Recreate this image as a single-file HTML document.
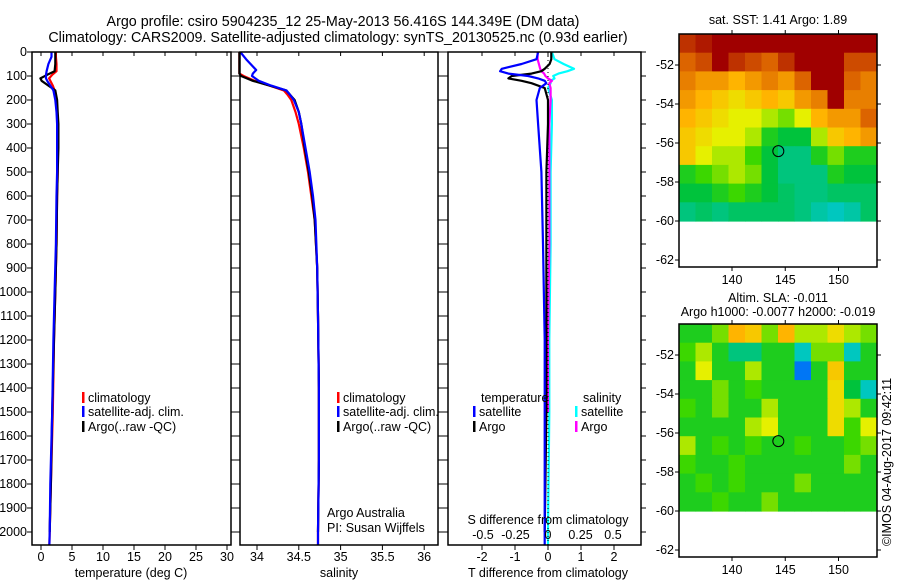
<!DOCTYPE html>
<html><head><meta charset="utf-8"><style>
body{margin:0;background:#fff;}
svg{display:block;font-family:"Liberation Sans",sans-serif;}
</style></head><body>
<svg id="fig" width="900" height="580" viewBox="0 0 900 580" xmlns="http://www.w3.org/2000/svg">
<defs><clipPath id="pc"><rect x="0" y="52" width="660" height="493"/></clipPath></defs>
<text x="343" y="26" text-anchor="middle" font-size="14.3">Argo profile: csiro 5904235_12 25-May-2013 56.416S 144.349E (DM data)</text>
<text x="338" y="42" text-anchor="middle" font-size="14.3">Climatology: CARS2009. Satellite-adjusted climatology: synTS_20130525.nc (0.93d earlier)</text>
<g id="g"></g>
</svg>
<script>
// ---- profile data ----
const tDepth=[0,20,50,80,95,110,120,140,160,200,250,300,400,500,600,800,1000,1200,1500,1800,2000,2100];
const tClim=[2.4,2.4,2.5,2.5,1.8,1.3,1.5,1.9,2.2,2.5,2.6,2.7,2.7,2.7,2.6,2.5,2.3,2.1,1.9,1.6,1.4,1.3];
const tSat=[1.7,1.7,1.2,0.9,0.8,0.8,1.0,1.5,2.0,2.3,2.5,2.6,2.6,2.6,2.5,2.4,2.2,2.0,1.8,1.5,1.4,1.3];
const tArgo=[2.3,2.3,2.3,2.2,1.0,-0.1,0.1,1.2,2.3,2.6,2.7,2.8,2.8,2.7,2.6,2.5,2.3,2.1,1.8,1.6,1.4,null];
const sDepth=[0,30,75,90,100,120,140,160,180,200,250,300,400,500,600,700,900,1100,1400,1700,2000,2100];
const sClim=[33.79,33.79,33.79,33.79,33.84,33.97,34.15,34.32,34.37,34.41,34.46,34.5,34.56,34.61,34.65,34.69,34.72,34.73,34.74,34.74,34.73,34.73];
const sSat=[33.8,33.87,33.99,33.95,33.94,34.02,34.17,34.35,34.4,34.44,34.5,34.53,34.58,34.63,34.67,34.7,34.72,34.73,34.74,34.74,34.73,34.73];
const sArgo=[33.79,33.79,33.79,33.79,33.81,33.95,34.15,34.35,34.4,34.45,34.5,34.53,34.57,34.62,34.66,34.69,34.72,34.73,34.74,34.74,34.73,null];
const dDepth=[0,30,50,70,80,90,100,110,120,130,150,200,300,500,800,1200,1500,2000,2100];
const tdSat=[-0.3,-0.35,-0.8,-1.4,-1.45,-1.2,-0.6,-0.3,-0.1,-0.05,-0.25,-0.35,-0.3,-0.2,-0.15,-0.1,-0.1,-0.1,-0.1];
const tdArgo=[0.1,0.1,0.05,-0.1,-0.2,-0.5,-1.1,-1.2,-0.8,-0.5,-0.1,0,0,-0.05,-0.05,-0.05,-0.05,-0.1,null];
const sdSat=[0.03,0.05,0.12,0.2,0.15,0.08,0.04,0.05,0.02,0.02,0.0,0.03,0.03,0.02,0.02,0.01,0.01,0.0,0.0];
const sdArgo=[-0.08,-0.08,-0.07,-0.06,-0.05,-0.03,-0.02,0.0,0.03,0.01,0.02,0.02,0.01,0.01,0.01,0.0,0.0,null,null];
const depthTicks=[0,100,200,300,400,500,600,700,800,900,1000,1100,1200,1300,1400,1500,1600,1700,1800,1900,2000];
const tTicks=[0,5,10,15,20,25,30];
const sTicks=[34,34.5,35,35.5,36];
const tdTicks=[-2,-1,0,1,2];
const sdTicks=[-0.5,-0.25,0,0.25,0.5];
// ---- map data (normalised colour index 0..1) ----
const sstGrid=[
[0.9,0.95,1,1,1,1,1,1,1,1,1,1],
[0.8,0.85,1,0.9,0.85,0.8,0.9,1,1,1,0.85,0.85],
[0.75,0.7,0.7,0.65,0.7,0.75,0.7,0.8,1,1,0.8,0.75],
[0.7,0.65,0.6,0.55,0.6,0.65,0.6,0.7,0.75,1,0.75,0.75],
[0.65,0.6,0.55,0.5,0.5,0.45,0.4,0.5,0.65,0.7,0.7,0.8],
[0.6,0.55,0.5,0.5,0.45,0.3,0.25,0.25,0.45,0.6,0.65,0.7],
[0.6,0.5,0.45,0.45,0.35,0.25,0.2,0.2,0.3,0.4,0.3,0.3],
[0.3,0.35,0.4,0.45,0.4,0.25,0.2,0.2,0.2,0.3,0.25,0.25],
[0.25,0.25,0.3,0.35,0.3,0.25,0.22,0.2,0.2,0.22,0.22,0.22],
[0.2,0.22,0.2,0.22,0.22,0.22,0.22,0.2,0.17,0.15,0.17,0.22]];
const slaGrid=[
[.3,.3,.4,.65,.6,.4,.65,.45,.45,.55,.45,.4],
[.35,.45,.3,.2,.2,.3,.3,.15,.4,.4,.15,.3],
[.3,.5,.3,.3,.45,.3,.3,.05,.3,.6,.3,.3],
[.3,.3,.4,.3,.35,.3,.3,.3,.3,.55,.25,.15],
[.35,.3,.4,.3,.3,.45,.3,.3,.3,.55,.45,.3],
[.3,.3,.3,.3,.45,.5,.3,.3,.3,.55,.35,.5],
[.45,.3,.35,.3,.35,.3,.3,.35,.3,.3,.35,.4],
[.35,.3,.3,.35,.3,.3,.3,.3,.3,.3,.4,.3],
[.3,.35,.3,.35,.3,.3,.3,.4,.3,.3,.3,.3],
[.3,.3,.35,.3,.3,.4,.3,.3,.3,.3,.3,.3]];
const latTicks=[-52,-54,-56,-58,-60,-62];
const lonTicks=[140,145,150];
const argoLon=144.349, argoLat=-56.416;

const NS="http://www.w3.org/2000/svg";
const G=document.getElementById('g');
function el(tag,at,parent){const e=document.createElementNS(NS,tag);for(const k in at)e.setAttribute(k,at[k]);(parent||G).appendChild(e);return e;}
function txt(x,y,s,anchor,size){const t=el('text',{x:x,y:y,'text-anchor':anchor||'start','font-size':size||12.5});t.textContent=s;return t;}

const pTop=52,pBot=545;
const yD=d=>pTop+d*0.24;
const LG=el('g',{'clip-path':'url(#pc)'});
function panel(x0,x1,name){
  const r=el('rect',{x:x0,y:pTop,width:x1-x0,height:pBot-pTop,fill:'none',stroke:'#000','stroke-width':1.5});
  
  
}
function xticks(xs,f,labY,topTicks){
  xs.forEach(v=>{const x=f(v);
    el('line',{x1:x,x2:x,y1:pBot,y2:pBot+5,stroke:'#000'});
    if(topTicks)el('line',{x1:x,x2:x,y1:pTop,y2:pTop+4,stroke:'#000'});
    const t=txt(x,labY,String(v),'middle',12.5);
    
    
  });
}
function line(xs,ds,fx,color,name,w){
  let p='';
  for(let i=0;i<xs.length;i++){if(xs[i]==null)continue;p+=(p?'L':'M')+fx(xs[i]).toFixed(1)+','+yD(ds[i]).toFixed(1);}
  const e=el('path',{d:p,fill:'none',stroke:color,'stroke-width':w||2.2,'stroke-linejoin':'round'},LG);
  
  
}
function legItem(x,y,color,label,name){
  el('rect',{x:x,y:y-10,width:2.5,height:11,fill:color});
  const t=txt(x+6,y,label,'start',12.5);
  
  
}

// Panel 1: temperature
const fT=v=>41+v*6.2;
panel(32,231,'temperature-panel');
depthTicks.forEach(d=>{const y=yD(d);
  el('line',{x1:32,x2:27,y1:y,y2:y,stroke:'#000'});el('line',{x1:231,x2:236,y1:y,y2:y,stroke:'#000'});
  el('line',{x1:240,x2:235,y1:y,y2:y,stroke:'#000'});el('line',{x1:438,x2:443,y1:y,y2:y,stroke:'#000'});
  el('line',{x1:448,x2:443,y1:y,y2:y,stroke:'#000'});el('line',{x1:641,x2:646,y1:y,y2:y,stroke:'#000'});
  const t=txt(27,y+4,String(d),'end',12.5);
  
  
});
xticks(tTicks,fT,561,true);
line(tClim,tDepth,fT,'#f00','temp-climatology-line');
line(tArgo,tDepth,fT,'#000','temp-argo-line');
line(tSat,tDepth,fT,'#00f','temp-satellite-line');
let xl=txt(131,577,'temperature (deg C)','middle',12.5);
legItem(82,402,'#f00','climatology','legend-climatology');
legItem(82,416,'#00f','satellite-adj. clim.','legend-satellite');
legItem(82,431,'#000','Argo(..raw -QC)','legend-argo');

// Panel 2: salinity
const fS=v=>257+(v-34)*83.6;
panel(240,438,'salinity-panel');
xticks(sTicks,fS,561,true);
line(sClim,sDepth,fS,'#f00','sal-climatology-line');
line(sArgo,sDepth,fS,'#000','sal-argo-line');
line(sSat,sDepth,fS,'#00f','sal-satellite-line');
xl=txt(339,577,'salinity','middle',12.5);
legItem(337,402,'#f00','climatology','legend-climatology-2');
legItem(337,416,'#00f','satellite-adj. clim.','legend-satellite-2');
legItem(337,431,'#000','Argo(..raw -QC)','legend-argo-2');
let c=txt(327,517,'Argo Australia','start',12.5);
c=txt(327,532,'PI: Susan Wijffels','start',12.5);

// Panel 3: differences
const fTd=v=>548+v*33;
const fSd=v=>548+v*130;
panel(448,641,'difference-panel');
xticks(tdTicks,fTd,561,true);
sdTicks.forEach(v=>{const t=txt(fSd(v),539,String(v),'middle',12.5);});
el('line',{x1:548,x2:548,y1:pTop,y2:pBot,stroke:'#000','stroke-dasharray':'1,3','stroke-width':1});
line(sdSat,dDepth,fSd,'#0ff','sdiff-satellite-line');
line(sdArgo,dDepth,fSd,'#f0f','sdiff-argo-line');
line(tdArgo,dDepth,fTd,'#000','tdiff-argo-line');
line(tdSat,dDepth,fTd,'#00f','tdiff-satellite-line');
xl=txt(548,577,'T difference from climatology','middle',12.5);
xl=txt(548,524,'S difference from climatology','middle',12.5);
c=txt(481,402,'temperature','start',12.5);
c=txt(583,402,'salinity','start',12.5);
legItem(473,416,'#00f','satellite','legend-t-satellite');
legItem(473,431,'#000','Argo','legend-t-argo');
legItem(575,416,'#0ff','satellite','legend-s-satellite');
legItem(575,431,'#f0f','Argo','legend-s-argo');

// Maps
function cmap(v){
  const stops=[[0,[0,60,255]],[0.12,[0,200,230]],[0.25,[0,195,60]],[0.35,[60,215,0]],[0.5,[230,240,0]],[0.65,[255,180,0]],[0.8,[220,100,0]],[1,[160,0,0]]];
  for(let i=1;i<stops.length;i++){if(v<=stops[i][0]){const a=stops[i-1],b=stops[i];const t=(v-a[0])/(b[0]-a[0]);
    return 'rgb('+a[1].map((q,k)=>Math.round(q+(b[1][k]-q)*t)).join(',')+')';}}
  return 'rgb(160,0,0)';
}
function drawMap(y0,grid,name){
  const x0=679,x1=877,y1=y0+233;
  const fLon=l=>732+(l-140)*10.65;
  const fLat=l=>y0+31+(-52-l)*19.5;
  const gr=el('g',{});
  
  
  const imgTop=y0, imgBot=fLat(-60);
  const rows=grid.length, cols=grid[0].length;
  const cw=(x1-x0)/cols, ch=(imgBot-imgTop)/rows;
  for(let r=0;r<rows;r++)for(let k=0;k<cols;k++){
    const cell=el('rect',{x:(x0+k*cw).toFixed(2),y:(imgTop+r*ch).toFixed(2),width:(cw+0.6).toFixed(2),height:(ch+0.6).toFixed(2),fill:cmap(grid[r][k])},gr);
    
    
  }
  el('rect',{x:x0,y:y0,width:x1-x0,height:y1-y0,fill:'none',stroke:'#000','stroke-width':1.5},gr);
  latTicks.forEach(l=>{const y=fLat(l);
    el('line',{x1:x0,x2:x0-4,y1:y,y2:y,stroke:'#000'},gr);el('line',{x1:x1,x2:x1+4,y1:y,y2:y,stroke:'#000'},gr);
    const t=txt(674,y+4,String(l),'end',12.5);});
  lonTicks.forEach(l=>{const x=fLon(l);
    el('line',{x1:x,x2:x,y1:y1,y2:y1+4,stroke:'#000'},gr);el('line',{x1:x,x2:x,y1:y0,y2:y0-4,stroke:'#000'},gr);
    const t=txt(x,y1+17,String(l),'middle',12.5);});
  const m=el('circle',{cx:fLon(argoLon),cy:fLat(argoLat),r:5.5,fill:'none',stroke:'#000','stroke-width':1},gr);
  
  
}
drawMap(34,sstGrid,'sst-map');
drawMap(324,slaGrid,'sla-map');
c=txt(778,24,'sat. SST: 1.41  Argo: 1.89','middle',12.5);
c=txt(778,302,'Altim. SLA: -0.011','middle',12.5);
c=txt(778,316,'Argo h1000: -0.0077 h2000: -0.019','middle',12.5);
c=txt(0,0,'©IMOS 04-Aug-2017 09:42:11','middle',12.5);c.setAttribute('transform','translate(891,462) rotate(-90)');

</script>
</body></html>
